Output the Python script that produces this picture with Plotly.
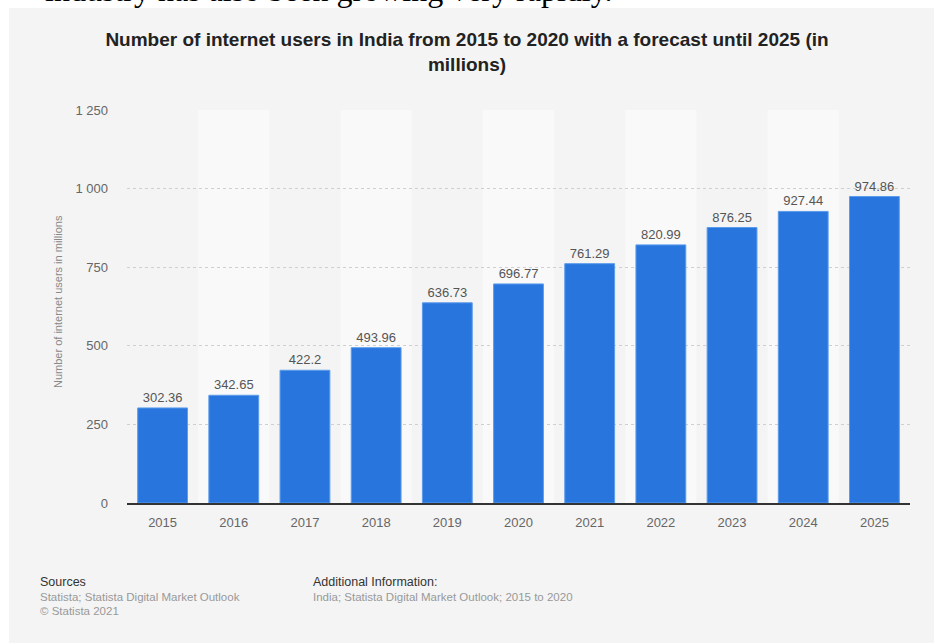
import plotly.graph_objects as go

years = ["2015", "2016", "2017", "2018", "2019", "2020", "2021", "2022", "2023", "2024", "2025"]
users = [302.36, 342.65, 422.2, 493.96, 636.73, 696.77, 761.29, 820.99, 876.25, 927.44, 974.86]
y_ticks = [0, 250, 500, 750, 1000, 1250]

W, H = 934, 643
ML, MR, MT, MB = 127, 24, 110, 140
PW = W - ML - MR
PH = H - MT - MB


def px_x(px):
    return (px - ML) / PW


def px_y(py):
    return (H - MB - py) / PH


fig = go.Figure()
fig.add_trace(go.Bar(
    x=years, y=users,
    text=[str(v) for v in users],
    textposition="outside",
    textfont=dict(family="Liberation Sans, Arial, sans-serif", size=13, color="#555555"),
    marker=dict(color="#2876dd", line=dict(color="#5c9cec", width=1)),
    cliponaxis=False,
    hoverinfo="skip",
))

shapes = [
    dict(type="rect", xref="paper", yref="paper", layer="below",
         x0=px_x(9), x1=px_x(W + 5), y0=px_y(H + 5), y1=px_y(8),
         fillcolor="#f4f4f4", line=dict(width=0)),
]
for i, yr in enumerate(years):
    if i % 2 == 1:
        shapes.append(dict(type="rect", xref="x", yref="paper", layer="below",
                           x0=i - 0.5, x1=i + 0.5, y0=0, y1=1,
                           fillcolor="#f9f9f9", line=dict(width=0)))

font_s = "Liberation Sans, Arial, sans-serif"
annotations = [
    dict(text="industry has also been growing very rapidly.", xref="paper", yref="paper",
         x=px_x(43), y=px_y(10), xanchor="left", yanchor="bottom", showarrow=False,
         font=dict(family="Liberation Serif, Times New Roman, serif", size=32, color="#000000")),
    dict(text="Number of internet users in millions", xref="paper", yref="paper",
         x=px_x(58), y=px_y(302), xanchor="center", yanchor="middle", textangle=-90,
         showarrow=False, font=dict(family=font_s, size=11, color="#888888")),
    dict(text="Sources", xref="paper", yref="paper", x=px_x(38), y=px_y(582),
         xanchor="left", yanchor="middle", showarrow=False,
         font=dict(family=font_s, size=12.5, color="#333333")),
    dict(text="Statista; Statista Digital Market Outlook", xref="paper", yref="paper",
         x=px_x(38), y=px_y(597), xanchor="left", yanchor="middle", showarrow=False,
         font=dict(family=font_s, size=11.5, color="#999999")),
    dict(text="© Statista 2021", xref="paper", yref="paper",
         x=px_x(38), y=px_y(611), xanchor="left", yanchor="middle", showarrow=False,
         font=dict(family=font_s, size=11.5, color="#999999")),
    dict(text="Additional Information:", xref="paper", yref="paper", x=px_x(311), y=px_y(582),
         xanchor="left", yanchor="middle", showarrow=False,
         font=dict(family=font_s, size=12.5, color="#333333")),
    dict(text="India; Statista Digital Market Outlook; 2015 to 2020", xref="paper", yref="paper",
         x=px_x(311), y=px_y(597), xanchor="left", yanchor="middle", showarrow=False,
         font=dict(family=font_s, size=11.5, color="#999999")),
]

fig.update_layout(
    width=W, height=H,
    margin=dict(l=ML, r=MR, t=MT, b=MB, pad=0),
    paper_bgcolor="#ffffff",
    plot_bgcolor="rgba(0,0,0,0)",
    separators=". ",
    showlegend=False,
    bargap=0.3,
    title=dict(
        text="<b>Number of internet users in India from 2015 to 2020 with a forecast until 2025 (in<br>millions)</b>",
        xref="container", yref="container", x=0.5, xanchor="center",
        y=1 - 46 / H, yanchor="top",
        font=dict(family=font_s, size=19, color="#222222"),
    ),
    xaxis=dict(
        type="category", showgrid=False, showline=True, linecolor="#333333", linewidth=1.5,
        ticks="", tickfont=dict(family=font_s, size=13, color="#666666"),
        ticklabelstandoff=7, fixedrange=True,
    ),
    yaxis=dict(
        range=[0, 1250], tickvals=y_ticks, tickformat=",d",
        showgrid=True, gridcolor="#cfcfcf", griddash="dot", gridwidth=1,
        zeroline=False, showline=False, ticks="",
        tickfont=dict(family=font_s, size=13, color="#666666"),
        ticklabelstandoff=18, fixedrange=True,
    ),
    shapes=shapes,
    annotations=annotations,
)

fig.write_html("out.html")
